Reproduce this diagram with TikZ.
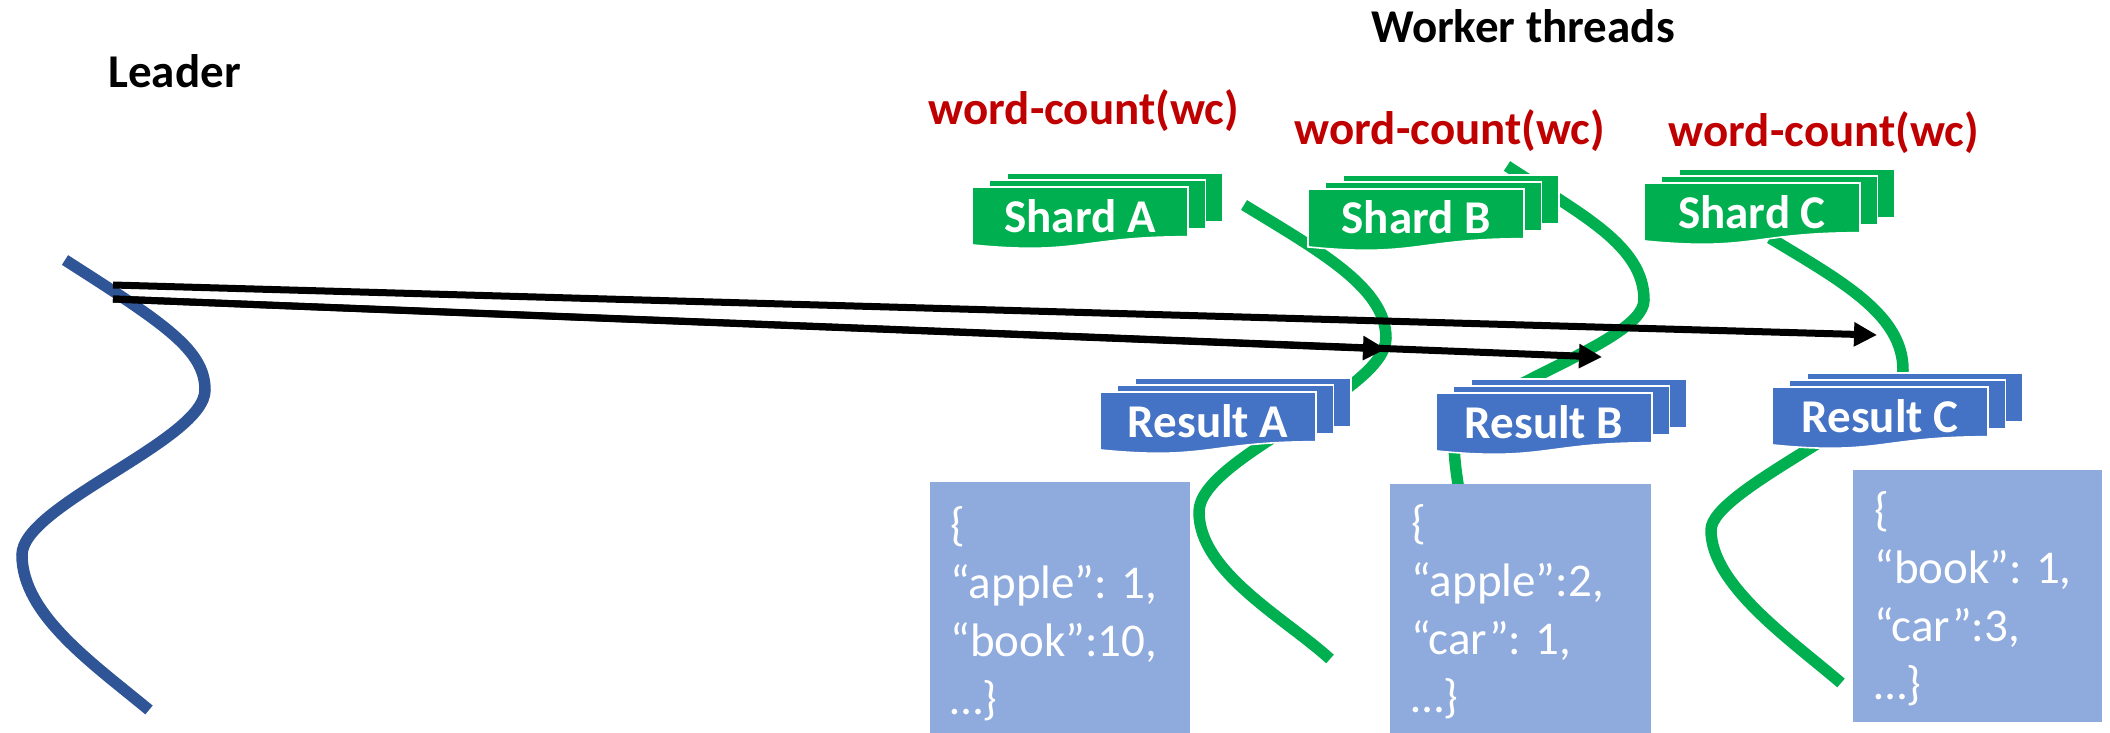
\documentclass[tikz,border=0pt]{standalone}
\usepackage{fontspec}
\setmainfont{Carlito}
\usetikzlibrary{arrows.meta}

\definecolor{shardgreen}{HTML}{00B050}
\definecolor{resultblue}{HTML}{4472C4}
\definecolor{jsonblue}{HTML}{8FAADC}
\definecolor{leaderblue}{HTML}{2F5597}
\definecolor{wcred}{HTML}{C00000}

% A stack of three documents; #1,#2 = top-left corner of the front sheet,
% #3 = fill colour, #4 = name of the label node, #5 = label text
\newcommand{\docstack}[5]{%
  \begin{scope}[shift={(#1,#2)}]
    \filldraw[layer, fill=#3] (35,-14) rectangle (251,35);
    \filldraw[layer, fill=#3] (17.5,-7) rectangle (233.5,42);
    \filldraw[layer, fill=#3] (0,0) -- (216,0) -- (216,49.7)
      .. controls (108,49.7) and (108,68.7) .. (0,57.9) -- cycle;
    \node[stacklabel, anchor=base] (#4) at (108,45) {#5};
  \end{scope}}

\begin{document}
\begin{tikzpicture}[x=0.5pt, y=-0.5pt,
  title/.style={font=\fontsize{23.5}{28}\selectfont\bfseries, inner sep=0},
  wclabel/.style={title, text=wcred},
  stacklabel/.style={title, text=white},
  layer/.style={draw=white, line width=0.8pt},
  thread/.style={line width=5.75pt, draw=shardgreen},
  leaderthread/.style={line width=5.75pt, draw=leaderblue},
  dispatch/.style={line width=3.5pt, draw=black,
    -{Triangle[length=11.5pt, width=11.5pt]}},
  jsonbox/.style={fill=jsonblue},
  jsontext/.style={font=\fontsize{23.5}{29}\selectfont, text=white,
    inner sep=0, anchor=base west}]

\useasboundingbox (0,0) rectangle (2110,733);

% leader thread
\draw[leaderthread] (65,260) .. controls (165,324) and (205,350) .. (205,390)
  .. controls (205,440) and (22,505) .. (22,555)
  .. controls (22,615) and (95,665) .. (149,710);

% worker threads
\draw[thread] (1244,205) .. controls (1321,252) and (1386,288) .. (1386,338)
  .. controls (1386,393) and (1199,457) .. (1199,512)
  .. controls (1199,572) and (1285,618) .. (1330,659);
\draw[thread] (1507,166) .. controls (1580,214) and (1644,245) .. (1644,300)
  .. controls (1644,345) and (1454,395) .. (1454,440)
  .. controls (1454,470) and (1460,490) .. (1466,540);
\draw[thread] (1770,238) .. controls (1843,282) and (1903,315) .. (1903,370)
  .. controls (1903,411) and (1711,489) .. (1711,530)
  .. controls (1711,585) and (1791,640) .. (1841,683);

% partial results
\path[jsonbox] (930,482) rectangle (1190,733);
\path[jsonbox] (1390,484) rectangle (1651,733);
\path[jsonbox] (1853,470) rectangle (2102,722);

\node[jsontext] (jsonA) at (950,540)
  {\begin{tabular}[t]{@{}l@{}}\{\\“apple”: 1,\\“book”:10,\\…\}\end{tabular}};
\node[jsontext] (jsonB) at (1411,538)
  {\begin{tabular}[t]{@{}l@{}}\{\\“apple”:2,\\“car”: 1,\\…\}\end{tabular}};
\node[jsontext] (jsonC) at (1874,525)
  {\begin{tabular}[t]{@{}l@{}}\{\\“book”: 1,\\“car”:3,\\…\}\end{tabular}};

% shards and results
\docstack{972}{187}{shardgreen}{shardA}{Shard A}
\docstack{1308}{189}{shardgreen}{shardB}{Shard B}
\docstack{1644}{183}{shardgreen}{shardC}{Shard C}
\docstack{1100}{392}{resultblue}{resultA}{Result A}
\docstack{1436}{393}{resultblue}{resultB}{Result B}
\docstack{1772}{387}{resultblue}{resultC}{Result C}

% dispatch from the leader to each worker
\coordinate (srcC) at (113,285);
\coordinate (srcAB) at (113,299);
\coordinate (tipA) at (1386,349);
\coordinate (tipB) at (1602,357);
\coordinate (tipC) at (1877,335);
\draw[dispatch] (srcC) -- (tipC);
\draw[dispatch] (srcAB) -- (tipA);
\draw[dispatch] (srcAB) -- (tipB);

% headings
\node[title, anchor=base west] (leader) at (108,88) {Leader};
\node[title, anchor=base] (workers) at (1523,43) {Worker threads};
\node[wclabel, anchor=base] (wcA) at (1084,125) {word-count(wc)};
\node[wclabel, anchor=base] (wcB) at (1450,145) {word-count(wc)};
\node[wclabel, anchor=base] (wcC) at (1824,147) {word-count(wc)};

\end{tikzpicture}
\end{document}
